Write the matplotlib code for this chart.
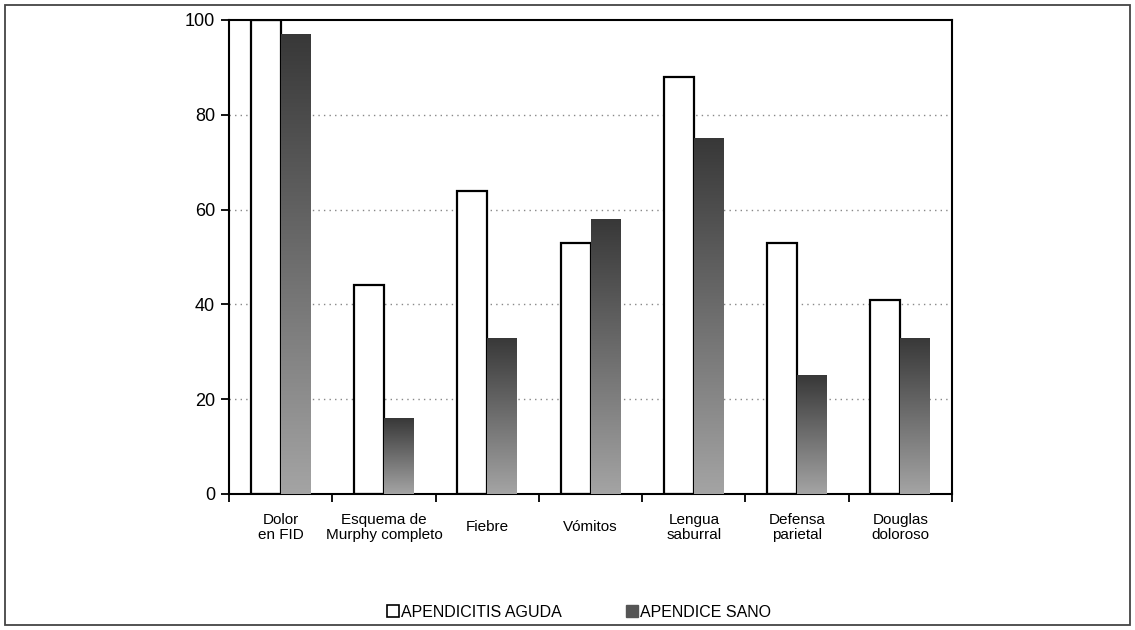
import numpy as np
import matplotlib.pyplot as plt
from matplotlib.patches import Rectangle, Patch
from matplotlib.colors import LinearSegmentedColormap

plt.rcParams['font.family'] = ['Liberation Sans', 'DejaVu Sans']

categories = ['Dolor\nen FID', 'Esquema de\nMurphy completo', 'Fiebre', 'Vómitos',
              'Lengua\nsaburral', 'Defensa\nparietal', 'Douglas\ndoloroso']
apendicitis_aguda = [100, 44, 64, 53, 88, 53, 41]
apendice_sano = [97, 16, 33, 58, 75, 25, 33]
y_ticks = [0, 20, 40, 60, 80, 100]

fig = plt.figure(figsize=(11.35, 6.3), dpi=100)
ax = fig.add_axes([0.2018, 0.2159, 0.6370, 0.7524])

x = np.arange(len(categories))
w = 0.29

# grid lines behind the bars
for yv in y_ticks[1:-1]:
    ax.axhline(yv, color='#888888', lw=1.0, ls=(0, (1, 3)), zorder=0)

ax.bar(x - w / 2, apendicitis_aguda, w, color='white', edgecolor='black',
       linewidth=1.6, zorder=2)
dark = ax.bar(x + w / 2, apendice_sano, w, color='#777777', linewidth=0, zorder=2)

# shaded fill, darker at the top of each bar
shade = LinearSegmentedColormap.from_list('shade', ['#a4a4a4', '#383838'])
grad = np.linspace(0, 1, 256).reshape(-1, 1)
for b in dark:
    x0, y0 = b.get_x(), b.get_y()
    bw, bh = b.get_width(), b.get_height()
    im = ax.imshow(grad, cmap=shade, origin='lower', aspect='auto',
                   extent=(x0, x0 + bw, y0, y0 + bh), zorder=3)
    im.set_clip_path(b)

ax.set_xlim(-0.5, len(categories) - 0.5)
ax.set_ylim(0, 100)
ax.set_yticks(y_ticks)
ax.set_yticklabels([str(v) for v in y_ticks], fontsize=13)
ax.set_xticks(x)
ax.set_xticklabels(categories, fontsize=11, linespacing=1.08)
for lbl in ax.get_xticklabels():
    lbl.set_verticalalignment('center')
ax.set_xticks(np.arange(len(categories) + 1) - 0.5, minor=True)
ax.tick_params(axis='x', which='major', length=0, pad=24)
ax.tick_params(axis='x', which='minor', length=6, width=1.3, direction='out')
ax.tick_params(axis='y', length=6, width=1.3, direction='out', pad=4)
for s in ax.spines.values():
    s.set_linewidth(1.5)

handles = [Patch(facecolor='white', edgecolor='black', linewidth=1.2),
           Patch(facecolor='#555555', edgecolor='#555555')]
fig.legend(handles, ['APENDICITIS AGUDA', 'APENDICE SANO'], loc='center',
           bbox_to_anchor=(0.51, 0.028), ncol=2, frameon=False, fontsize=11.5,
           handlelength=0.8, handleheight=0.8, handletextpad=0.1, columnspacing=4.0)

# outer frame around the figure
fig.patches.append(Rectangle((0.004, 0.008), 0.992, 0.984, transform=fig.transFigure,
                             fill=False, edgecolor='#444444', linewidth=1.3))

fig.savefig('out.png', dpi=100)
